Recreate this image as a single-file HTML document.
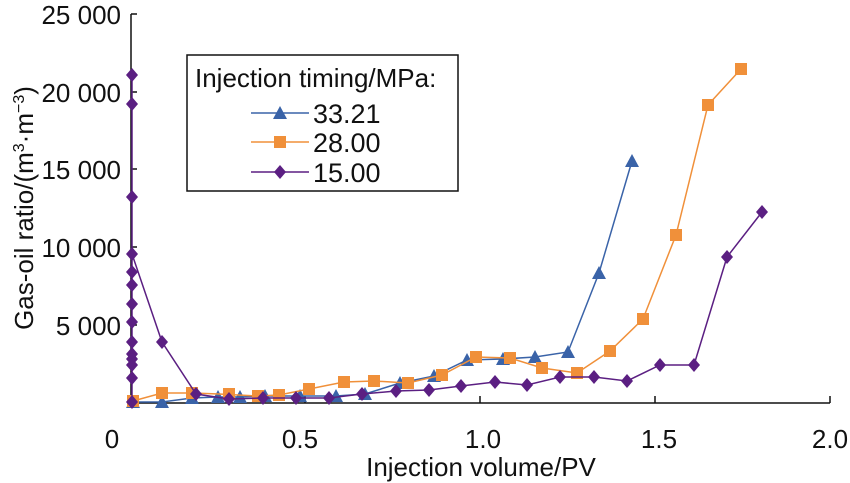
<!DOCTYPE html>
<html><head><style>body{margin:0;background:#fff}svg{display:block}text{font-family:"Liberation Sans",Arial,sans-serif;fill:#111}</style></head>
<body>
<svg width="850" height="483" viewBox="0 0 850 483">
<defs>
<path id="tri" d="M0,-7 L7,6 L-7,6Z" fill="#3a63a8"/>
<rect id="sq" x="-6" y="-6" width="12" height="12" fill="#f0903a"/>
<path id="dia" d="M0,-7 L6,0 L0,7 L-6,0Z" fill="#5b1f82"/>
</defs>
<g stroke="#111" stroke-width="1.5" fill="none">
<path d="M131,14 V403 H830"/>
<path d="M131,14 H137 M131,92 H137 M131,169 H137 M131,247 H137 M131,325 H137"/>
<path d="M305,403 V396 M480,403 V396 M655,403 V396 M830,403 V396"/>
</g>
<g font-size="26" text-anchor="end">
<text x="121" y="24">25 000</text><text x="121" y="102">20 000</text><text x="121" y="179">15 000</text><text x="121" y="257">10 000</text><text x="121" y="335">5 000</text>
</g>
<g font-size="26" text-anchor="middle">
<text x="112" y="448">0</text><text x="300" y="448">0.5</text><text x="483" y="448">1.0</text><text x="659" y="448">1.5</text><text x="830" y="448">2.0</text>
<text x="481" y="476">Injection volume/PV</text>
<text transform="translate(33,208) rotate(-90)">Gas-oil ratio/(m<tspan font-size="16" dy="-9">3</tspan><tspan dy="9">·m</tspan><tspan font-size="16" dy="-9">−3</tspan><tspan dy="9">)</tspan></text>
</g>
<polyline fill="none" stroke="#3a63a8" stroke-width="1.5" points="133,402 162,402 192,398 218,397 240,397 265,396 300,396 336,396 365,394 400,383 434,376 467,360 503,359 535,357 568,352 599,273 632,161"/>
<g><use href="#tri" x="133" y="402"/><use href="#tri" x="162" y="402"/><use href="#tri" x="192" y="398"/><use href="#tri" x="218" y="397"/><use href="#tri" x="240" y="397"/><use href="#tri" x="265" y="396"/><use href="#tri" x="300" y="396"/><use href="#tri" x="336" y="396"/><use href="#tri" x="365" y="394"/><use href="#tri" x="400" y="383"/><use href="#tri" x="434" y="376"/><use href="#tri" x="467" y="360"/><use href="#tri" x="503" y="359"/><use href="#tri" x="535" y="357"/><use href="#tri" x="568" y="352"/><use href="#tri" x="599" y="273"/><use href="#tri" x="632" y="161"/></g>
<polyline fill="none" stroke="#f0903a" stroke-width="1.5" points="133,401 162,393 192,393 219,394 258,396 279,395 309,389 344,382 374,381 408,383 442,375 476,357 510,358 542,368 577,373 610,351 643,319 676,235 708,105 741,69"/>
<g><use href="#sq" x="133" y="401"/><use href="#sq" x="162" y="393"/><use href="#sq" x="192" y="393"/><use href="#sq" x="229" y="394"/><use href="#sq" x="258" y="396"/><use href="#sq" x="279" y="395"/><use href="#sq" x="309" y="389"/><use href="#sq" x="344" y="382"/><use href="#sq" x="374" y="381"/><use href="#sq" x="408" y="383"/><use href="#sq" x="442" y="375"/><use href="#sq" x="476" y="357"/><use href="#sq" x="510" y="358"/><use href="#sq" x="542" y="368"/><use href="#sq" x="577" y="373"/><use href="#sq" x="610" y="351"/><use href="#sq" x="643" y="319"/><use href="#sq" x="676" y="235"/><use href="#sq" x="708" y="105"/><use href="#sq" x="741" y="69"/></g>
<polyline fill="none" stroke="#5b1f82" stroke-width="1.5" points="132,402 132,75 132,254 162,342 196,394 229,399 263,398 296,398 329,398 362,394 396,391 429,390 461,386 495,382 527,385 560,377 594,377 627,381 660,365 694,365 727,257 762,212"/>
<g><use href="#dia" x="132" y="75"/><use href="#dia" x="132" y="104"/><use href="#dia" x="132" y="197"/><use href="#dia" x="132" y="254"/><use href="#dia" x="132" y="272"/><use href="#dia" x="132" y="285"/><use href="#dia" x="132" y="304"/><use href="#dia" x="132" y="322"/><use href="#dia" x="132" y="342"/><use href="#dia" x="132" y="354"/><use href="#dia" x="132" y="359"/><use href="#dia" x="132" y="365"/><use href="#dia" x="132" y="378"/><use href="#dia" x="132" y="402"/><use href="#dia" x="162" y="342"/><use href="#dia" x="196" y="394"/><use href="#dia" x="229" y="399"/><use href="#dia" x="263" y="398"/><use href="#dia" x="296" y="398"/><use href="#dia" x="329" y="398"/><use href="#dia" x="362" y="394"/><use href="#dia" x="396" y="391"/><use href="#dia" x="429" y="390"/><use href="#dia" x="461" y="386"/><use href="#dia" x="495" y="382"/><use href="#dia" x="527" y="385"/><use href="#dia" x="560" y="377"/><use href="#dia" x="594" y="377"/><use href="#dia" x="627" y="381"/><use href="#dia" x="660" y="365"/><use href="#dia" x="694" y="365"/><use href="#dia" x="727" y="257"/><use href="#dia" x="762" y="212"/></g>
<rect x="187" y="55" width="271" height="136" fill="#fff" stroke="#111" stroke-width="1.5"/>
<g font-size="26">
<text x="195" y="87">Injection timing/MPa:</text>
</g>
<g font-size="27">
<text x="313" y="123">33.21</text><text x="313" y="152">28.00</text><text x="313" y="182">15.00</text>
</g>
<path d="M251,113 H309" stroke="#3a63a8" stroke-width="1.5"/><use href="#tri" x="280" y="113"/>
<path d="M251,142 H309" stroke="#f0903a" stroke-width="1.5"/><use href="#sq" x="280" y="142"/>
<path d="M251,172 H309" stroke="#5b1f82" stroke-width="1.5"/><use href="#dia" x="280" y="172"/>
</svg>
</body></html>
